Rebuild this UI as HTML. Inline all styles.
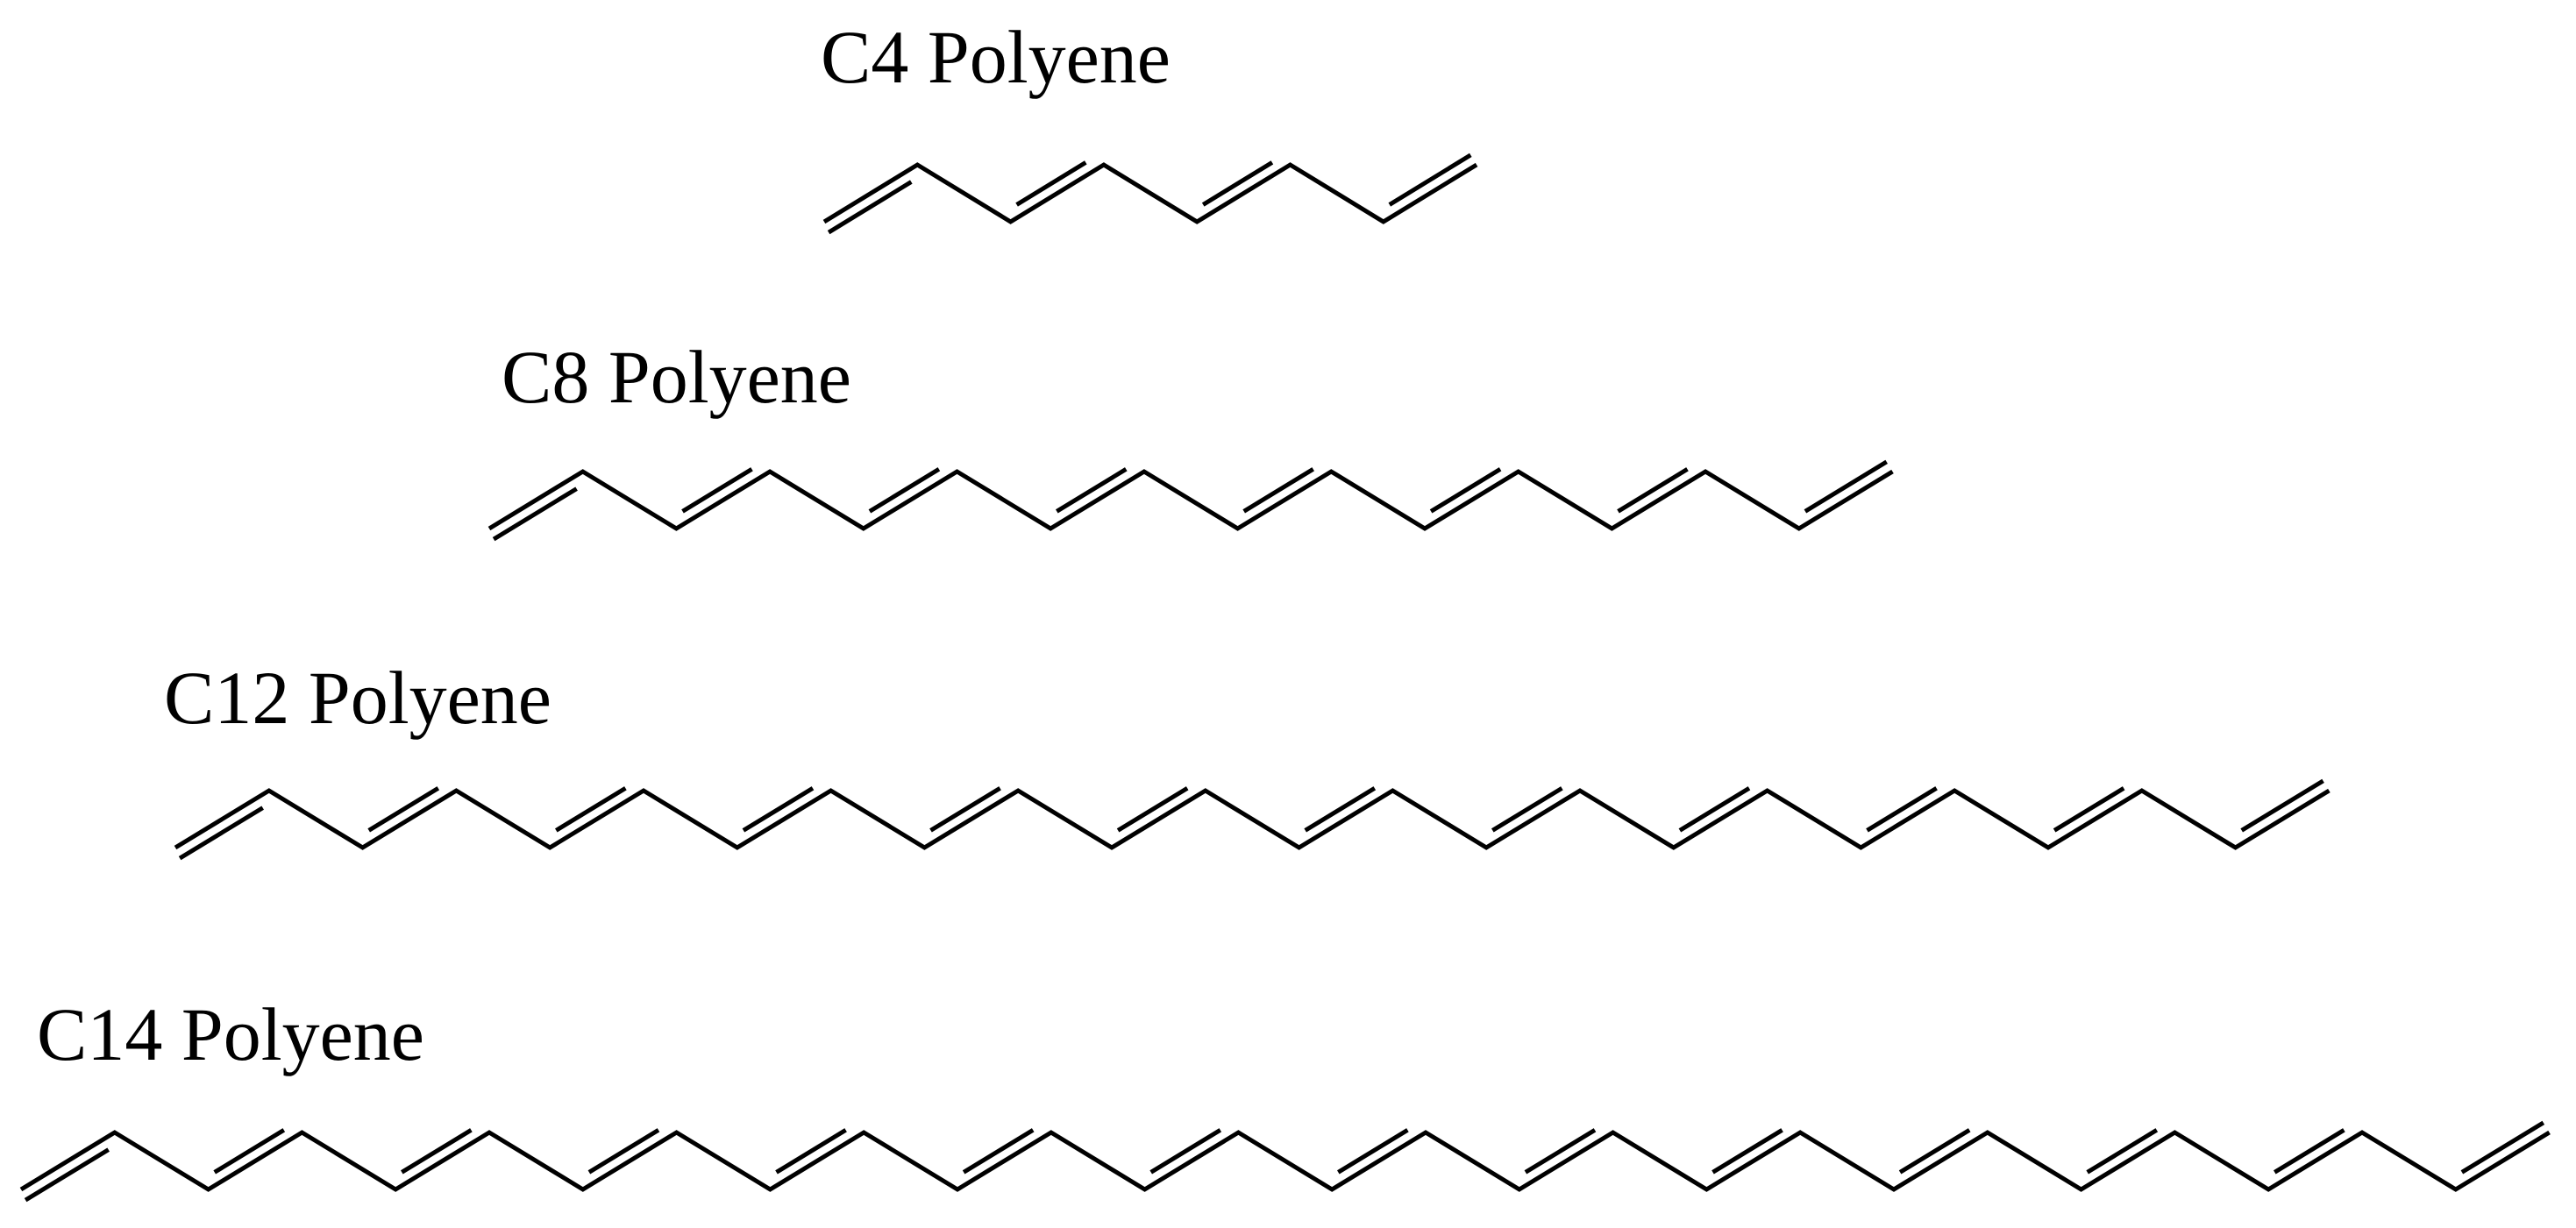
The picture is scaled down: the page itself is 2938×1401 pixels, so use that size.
<!DOCTYPE html>
<html><head><meta charset="utf-8">
<style>
html,body{margin:0;padding:0;background:#fff;}
svg{display:block;}
text{font-family:"Liberation Serif",serif;font-size:86px;fill:#000;}
</style></head>
<body>
<svg id="s" width="2938" height="1401" viewBox="0 0 2938 1401" xmlns="http://www.w3.org/2000/svg">
<rect width="2938" height="1401" fill="#fff"/>
<text x="936" y="94">C4 Polyene</text>
<text x="572" y="459">C8 Polyene</text>
<text x="187" y="825">C12 Polyene</text>
<text x="42" y="1209">C14 Polyene</text>
<g id="g" stroke="#000" stroke-width="5" fill="none" stroke-linecap="butt" stroke-linejoin="miter"></g>
</svg>
<script>
var rows=[
 {x0:940,step:106.3,hi:188,lo:253,n:7},
 {x0:558,step:106.7,hi:538,lo:603,n:15},
 {x0:200,step:106.8,hi:902,lo:967,n:23},
 {x0:24,step:106.8,hi:1292,lo:1357,n:27}
];
var g=document.getElementById('g'),out='';
rows.forEach(function(r){
 var pts=[];
 for(var i=0;i<=r.n;i++)pts.push([r.x0+i*r.step,i%2?r.hi:r.lo]);
 out+='<polyline points="'+pts.map(function(p){return p[0].toFixed(1)+','+p[1];}).join(' ')+'"/>';
 for(var b=0;b<r.n;b+=2){
  var a=pts[b],c=pts[b+1];
  var dx=c[0]-a[0],dy=c[1]-a[1],L=Math.sqrt(dx*dx+dy*dy);
  var ux=dx/L,uy=dy/L;
  var px=uy,py=-ux;
  if(py>0){px=-px;py=-py;}
  var off=13, side=1;
  if(b==0) side=-1;
  var ox=px*off*side, oy=py*off*side;
  var t0=(b==0)?0:0.13*L, t1=(b==r.n-1)?0:0.13*L;
  if(b==0){t0=-2;t1=0.13*L;}
  var x1=a[0]+ox+ux*t0,y1=a[1]+oy+uy*t0,x2=c[0]+ox-ux*t1,y2=c[1]+oy-uy*t1;
  out+='<line x1="'+x1.toFixed(1)+'" y1="'+y1.toFixed(1)+'" x2="'+x2.toFixed(1)+'" y2="'+y2.toFixed(1)+'"/>';
 }
});
g.innerHTML=out;
</script>
</body></html>
